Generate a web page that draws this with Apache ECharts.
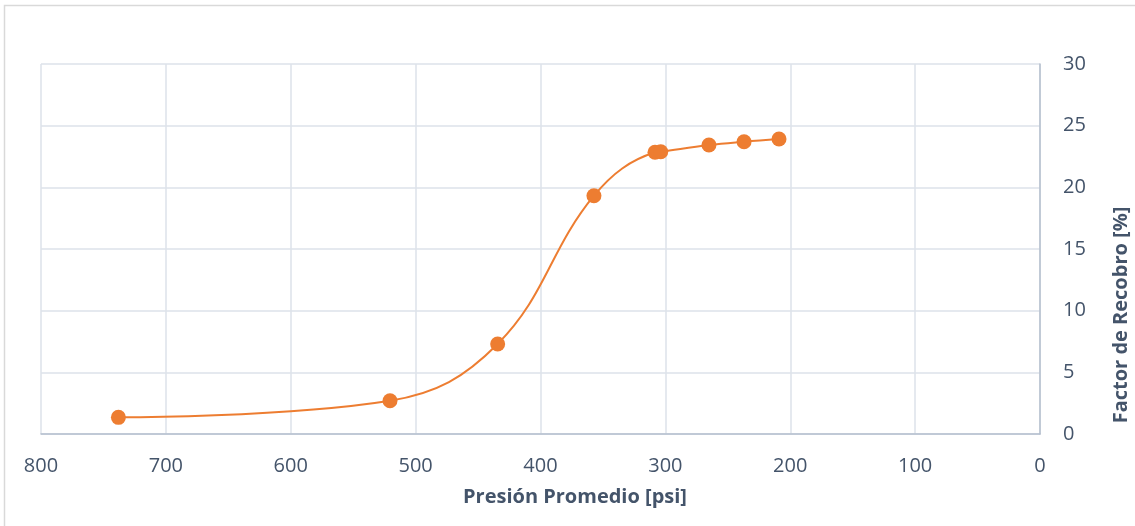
<!DOCTYPE html>
<html>
<head>
<meta charset="utf-8">
<script src="https://cdn.jsdelivr.net/npm/echarts@6/dist/echarts.min.js"></script>
<style>
  html, body { margin: 0; padding: 0; background: #ffffff; }
  #chart { width: 1135px; height: 526px; }
</style>
</head>
<body>
<div id="chart"></div>
<script>
// Average reservoir pressure [psi] and recovery factor [%]
const presion = [738, 520.5, 434.3, 357.2, 308.3, 303.7, 265.1, 237.0, 209.0];
const recobro = [1.35, 2.70, 7.30, 19.32, 22.84, 22.89, 23.43, 23.70, 23.92];

const xTitle = 'Presión Promedio [psi]';
const yTitle = 'Factor de Recobro [%]';

const textColor = '#44546a';
const axisColor = '#b4bfce';
const gridColor = '#dce2ea';
const seriesColor = '#ed7d31';
const font = '"Open Sans", sans-serif';

const points = presion.map((p, i) => [p, recobro[i]]);

const chart = echarts.init(document.getElementById('chart'), null, { renderer: 'canvas' });

chart.setOption({
  animation: false,
  backgroundColor: '#ffffff',
  grid: { left: 41, right: 95, top: 64, bottom: 92, containLabel: false },
  xAxis: {
    type: 'value',
    inverse: true,
    min: 0,
    max: 800,
    interval: 100,
    axisLine: { show: true, lineStyle: { color: axisColor, width: 1.5 } },
    axisTick: { show: false },
    axisLabel: { color: textColor, fontFamily: font, fontSize: 20, margin: 22 },
    splitLine: { show: true, lineStyle: { color: gridColor, width: 1.5 } }
  },
  yAxis: {
    type: 'value',
    position: 'right',
    min: 0,
    max: 30,
    interval: 5,
    axisLine: { show: true, lineStyle: { color: axisColor, width: 1.5 } },
    axisTick: { show: false },
    axisLabel: { color: textColor, fontFamily: font, fontSize: 20, margin: 23 },
    splitLine: { show: true, lineStyle: { color: gridColor, width: 1.5 } }
  },
  series: [{
    type: 'line',
    data: points,
    smooth: 0.4,
    symbol: 'circle',
    symbolSize: 15,
    lineStyle: { color: seriesColor, width: 2 },
    itemStyle: { color: seriesColor },
    z: 3
  }],
  graphic: [
    {
      type: 'rect',
      shape: { x: 4.5, y: 5.5, width: 1140, height: 540 },
      style: { fill: 'none', stroke: '#d9d9d9', lineWidth: 1.5 },
      silent: true
    },
    {
      type: 'text',
      x: 575, y: 497,
      style: {
        text: xTitle, fill: textColor, font: 'bold 20px "Open Sans", sans-serif',
        align: 'center', verticalAlign: 'middle'
      }
    },
    {
      type: 'text',
      x: 1121, y: 315,
      rotation: Math.PI / 2,
      style: {
        text: yTitle, fill: textColor, font: 'bold 20px "Open Sans", sans-serif',
        align: 'center', verticalAlign: 'middle'
      }
    }
  ]
});
</script>
</body>
</html>
